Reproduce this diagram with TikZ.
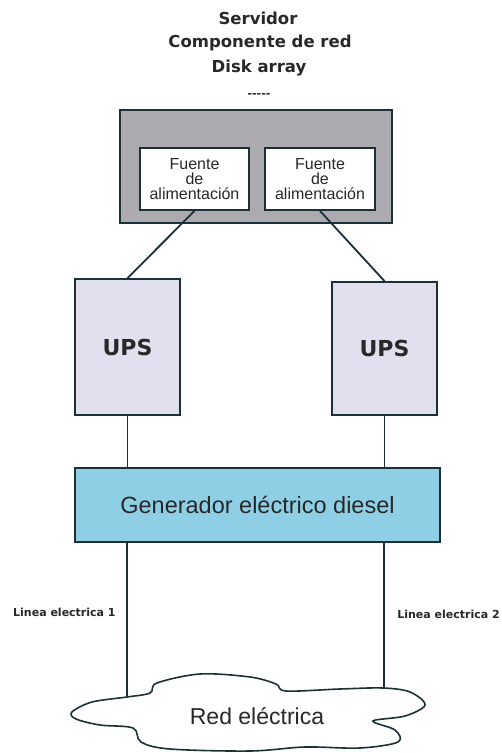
\documentclass[tikz,border=0pt]{standalone}
\usepackage{fontspec}
\setmainfont{Liberation Sans}
\newfontfamily\heavyfont{DejaVu Sans}
\usetikzlibrary{positioning}

\definecolor{redLineColor}{RGB}{28,48,56}
\definecolor{redTextColor}{RGB}{40,40,40}
\definecolor{redFrameColor}{RGB}{172,170,174}
\definecolor{redUpsColor}{RGB}{226,223,238}
\definecolor{redGenColor}{RGB}{143,207,230}

\begin{document}
\begin{tikzpicture}[x=1pt,y=-1pt]
            \tikzset{box/.style={draw=redLineColor, line width=1.8pt, text=redTextColor, inner sep=0pt, align=center},
                     fuente/.style={box, fill=white, minimum width=109pt, minimum height=62pt, font=\fontsize{16}{15}\selectfont},
                     ups/.style={box, fill=redUpsColor, minimum width=105pt, font=\heavyfont\bfseries\fontsize{22}{26}\selectfont},
                     wire/.style={draw=redLineColor, line width=1.8pt},
                     heading/.style={text=redTextColor, font=\heavyfont\bfseries\fontsize{16.5}{20}\selectfont},
                     linea/.style={text=redTextColor, inner sep=1pt, font=\heavyfont\bfseries\fontsize{11}{12}\selectfont}}

            \useasboundingbox[fill=white] (0,0) rectangle (502,753);

            \node[heading] (servidor) at (258,18) {Servidor};
            \node[heading] (componente) at (260,43) {Componente de red};
            \node[heading] (disk) at (259,68) {Disk array};
            \node[heading, font=\heavyfont\bfseries\fontsize{11}{12}\selectfont] (dots) at (259,96) {-----};

            \node[box, fill=redFrameColor, line width=2.4pt, minimum width=272pt, minimum height=113pt] (frame) at (256,166.5) {};
            \node[fuente] (fuenteL) at (194.5,179) {Fuente\\de\\alimentación};
            \node[fuente, minimum width=110pt] (fuenteR) at (320,179) {Fuente\\de\\alimentación};

            \node[ups, minimum height=136pt] (upsL) at (127.5,347) {UPS};
            \node[ups, minimum height=133pt] (upsR) at (384.5,348.5) {UPS};

            \node[box, fill=redGenColor, minimum width=365pt, minimum height=74pt, font=\fontsize{23.5}{26}\selectfont] (gen) at (257.5,505) {Generador eléctrico diesel};

            % red electrica
            \draw[redLineColor, line width=1.6pt, fill=white] plot[smooth cycle, tension=0.55] coordinates {
                (72,712) (92,702) (127,697) (150,693) (157,683) (200,674) (250,677) (276,684)
                (286,691) (340,689) (383,688) (410,692) (425,705) (405,716) (373,721) (395,730)
                (398,742) (360,748) (305,747) (250,751) (170,749) (141,742) (133,728) (100,725) (76,719)};
            \node[text=redTextColor, font=\fontsize{23}{26}\selectfont] (red) at (257,716) {Red eléctrica};
            \coordinate (redL) at (127,697);
            \coordinate (redR) at (384,688);

            \draw[wire] (fuenteL.south) -- (upsL.north);
            \draw[wire] (fuenteR.south) -- (upsR.north);
            \draw[wire] (upsL.south) -- (upsL.south |- gen.north);
            \draw[wire] (upsR.south) -- (upsR.south |- gen.north);
            \draw[wire] (redL |- gen.south) -- (redL);
            \draw[wire] (redR |- gen.south) -- (redR);

            \node[linea, anchor=west] (lineaL) at (12,612) {Linea electrica 1};
            \node[linea, anchor=east] (lineaR) at (501,614) {Linea electrica 2};
        \end{tikzpicture}
\end{document}
